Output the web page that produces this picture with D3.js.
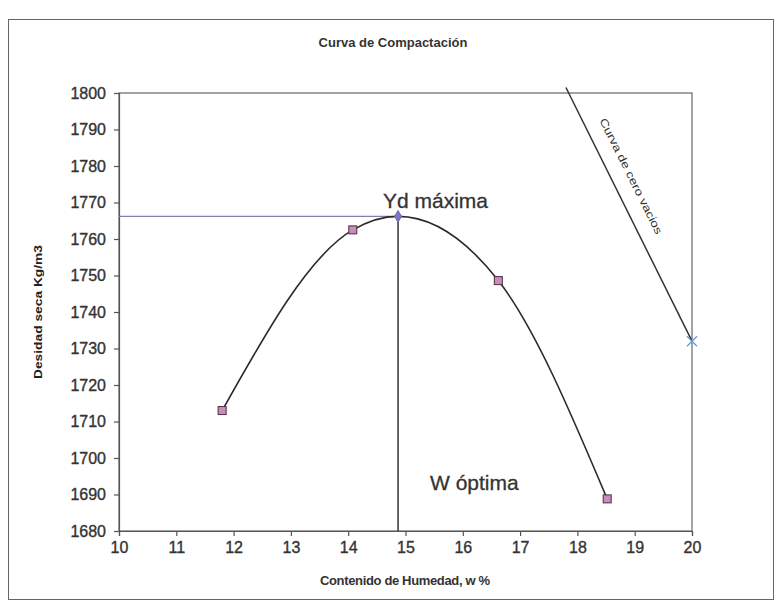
<!DOCTYPE html>
<html>
<head>
<meta charset="utf-8">
<script src="https://cdn.jsdelivr.net/npm/d3@7"></script>
<style>
  body { margin: 0; background: #fff; }
  text { font-family: "Liberation Sans", Arial, sans-serif; }
</style>
</head>
<body>
<svg id="chart"></svg>
<script>
const width = 781;
const height = 607;

// ensayo Proctor
const humedad = [11.8, 14.08, 16.62, 18.52];
const densidad = [1713, 1762.5, 1748.6, 1688.8];

// punto máximo
const wOptima = 14.87;
const ydMaxima = 1766.2;

// curva de cero vacios
const cvHumedad = [17.8, 20];
const cvDensidad = [1801.5, 1732];

const xTicks = [10, 11, 12, 13, 14, 15, 16, 17, 18, 19, 20];
const yTicks = [1680, 1690, 1700, 1710, 1720, 1730, 1740, 1750, 1760, 1770, 1780, 1790, 1800];

const margin = { top: 93, right: 89, bottom: 76, left: 119 };

const svg = d3.select('#chart')
  .attr('width', width)
  .attr('height', height);

// marco exterior
svg.append('rect')
  .attr('x', 8.5).attr('y', 19.5)
  .attr('width', 765).attr('height', 580)
  .attr('fill', 'none')
  .attr('stroke', '#666')
  .attr('stroke-width', 1);

const x = d3.scaleLinear().domain([10, 20]).range([margin.left, width - margin.right]);
const y = d3.scaleLinear().domain([1680, 1800]).range([height - margin.bottom, margin.top]);

// borde del area de trazado
svg.append('rect')
  .attr('x', x(10)).attr('y', y(1800))
  .attr('width', x(20) - x(10)).attr('height', y(1680) - y(1800))
  .attr('fill', 'none')
  .attr('stroke', '#666')
  .attr('stroke-width', 1.2);

const xAxis = svg.append('g')
  .attr('transform', `translate(0,${y(1680)})`)
  .call(d3.axisBottom(x).tickValues(xTicks).tickSize(5).tickPadding(6).tickFormat(d3.format('d')));
const yAxis = svg.append('g')
  .attr('transform', `translate(${x(10)},0)`)
  .call(d3.axisLeft(y).tickValues(yTicks).tickSize(5).tickPadding(8).tickFormat(d3.format('d')));

[xAxis, yAxis].forEach(function(g) {
  g.select('.domain').attr('stroke', '#555').attr('stroke-width', 1.2);
  g.selectAll('.tick line').attr('stroke', '#555').attr('stroke-width', 1.2);
  g.selectAll('.tick text')
    .attr('fill', '#333')
    .attr('stroke', '#333')
    .attr('stroke-width', 0.35)
    .style('font-size', '16px')
    .style('font-family', '"Liberation Sans", Arial, sans-serif');
});

// titulos
svg.append('text')
  .attr('x', 393).attr('y', 47)
  .attr('text-anchor', 'middle')
  .attr('fill', '#333')
  .style('font-size', '13px')
  .style('font-weight', 'bold')
  .text('Curva de Compactación');

svg.append('text')
  .attr('x', 405).attr('y', 585)
  .attr('text-anchor', 'middle')
  .attr('fill', '#333')
  .style('font-size', '13px')
  .style('font-weight', 'bold')
  .attr('textLength', 170)
  .text('Contenido de Humedad, w %');

svg.append('text')
  .attr('transform', 'translate(42,312) rotate(-90)')
  .attr('text-anchor', 'middle')
  .attr('fill', '#222')
  .style('font-size', '11px')
  .style('font-weight', 'bold')
  .attr('textLength', 134)
  .attr('lengthAdjust', 'spacingAndGlyphs')
  .text('Desidad seca Kg/m3');

// lineas de referencia
svg.append('line')
  .attr('x1', x(10)).attr('x2', x(wOptima))
  .attr('y1', y(ydMaxima)).attr('y2', y(ydMaxima))
  .attr('stroke', '#8a7aa8')
  .attr('stroke-width', 1.3);

svg.append('line')
  .attr('x1', x(wOptima)).attr('x2', x(wOptima))
  .attr('y1', y(ydMaxima)).attr('y2', y(1680))
  .attr('stroke', '#333')
  .attr('stroke-width', 1.5);

// curva de compactacion
const curvePts = humedad.map((h, i) => [h, densidad[i]]);
curvePts.splice(2, 0, [wOptima, ydMaxima]);

const line = d3.line()
  .x(d => x(d[0]))
  .y(d => y(d[1]))
  .curve(d3.curveMonotoneX);

svg.append('path')
  .attr('d', line(curvePts))
  .attr('fill', 'none')
  .attr('stroke', '#2a2a2a')
  .attr('stroke-width', 1.6);

svg.selectAll('rect.pt')
  .data(humedad)
  .enter()
  .append('rect')
  .attr('class', 'pt')
  .attr('x', (d) => x(d) - 4)
  .attr('y', (d, i) => y(densidad[i]) - 4)
  .attr('width', 8).attr('height', 8)
  .attr('fill', '#c98bb9')
  .attr('stroke', '#4a3040')
  .attr('stroke-width', 1);

// punto maximo
svg.append('path')
  .attr('d', d3.symbol(d3.symbolDiamond, 40)())
  .attr('transform', `translate(${x(wOptima)},${y(ydMaxima)})`)
  .attr('fill', '#7a78c0')
  .attr('stroke', '#6a68b0');

// curva de cero vacios
const cvPts = cvHumedad.map((h, i) => [h, cvDensidad[i]]);
svg.append('path')
  .attr('d', d3.line().x(d => x(d[0])).y(d => y(d[1]))(cvPts))
  .attr('fill', 'none')
  .attr('stroke', '#333')
  .attr('stroke-width', 1.5);

svg.append('path')
  .attr('d', 'M-5,-5L5,5M-5,5L5,-5')
  .attr('transform', `translate(${x(20)},${y(cvDensidad[1])})`)
  .attr('fill', 'none')
  .attr('stroke', '#6d9bd4')
  .attr('stroke-width', 1.4);

const ang = Math.atan2(y(cvDensidad[1]) - y(cvDensidad[0]), x(cvHumedad[1]) - x(cvHumedad[0])) * 180 / Math.PI;
svg.append('text')
  .attr('transform', `translate(${x(18.38)},${y(1792.5)}) rotate(${ang})`)
  .attr('fill', '#333')
  .style('font-size', '11px')
  .attr('textLength', 128)
  .attr('lengthAdjust', 'spacingAndGlyphs')
  .text('Curva de cero vacios');

// anotaciones
svg.append('text')
  .attr('x', 383).attr('y', 208)
  .attr('fill', '#333')
  .attr('stroke', '#333')
  .attr('stroke-width', 0.3)
  .style('font-size', '21px')
  .text('Yd máxima');

svg.append('text')
  .attr('x', 430).attr('y', 490)
  .attr('fill', '#333')
  .attr('stroke', '#333')
  .attr('stroke-width', 0.3)
  .style('font-size', '21px')
  .text('W óptima');
</script>
</body>
</html>
